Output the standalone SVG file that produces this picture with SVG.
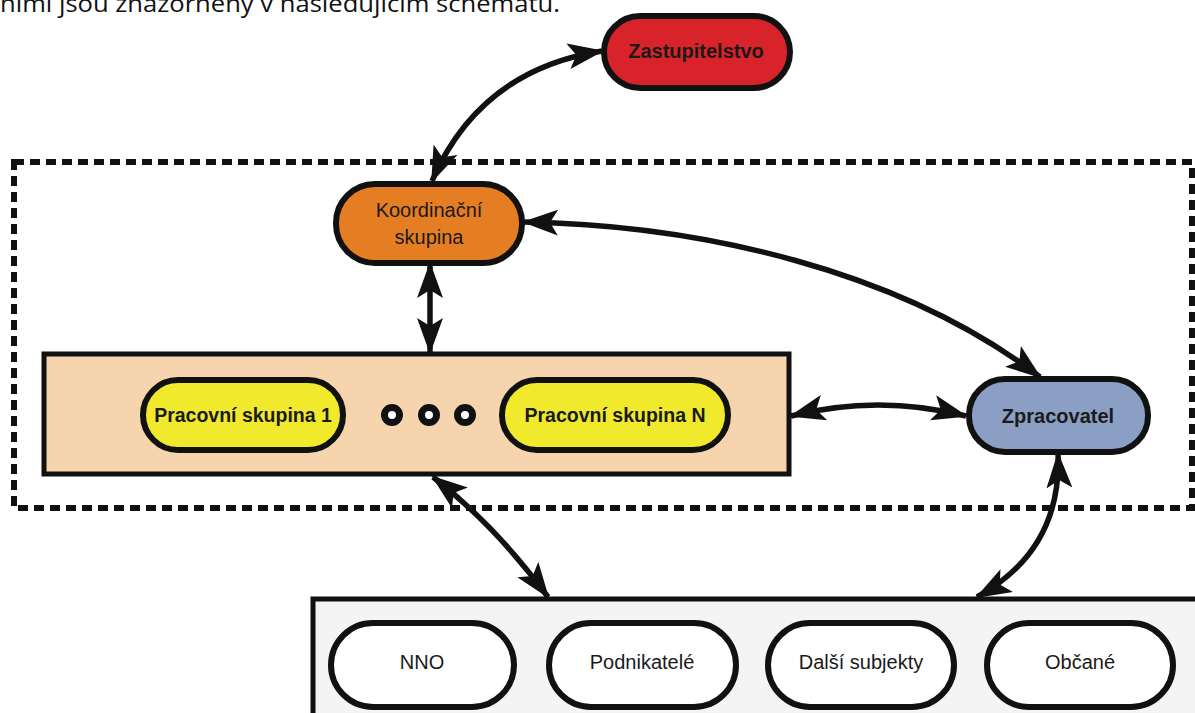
<svg xmlns="http://www.w3.org/2000/svg" width="1195" height="713" viewBox="0 0 1195 713">
<defs>
<marker id="ah" viewBox="0 0 36 26" refX="34" refY="13" markerWidth="36" markerHeight="26" markerUnits="userSpaceOnUse" orient="auto-start-reverse">
<path d="M0 0 L36 13 L0 26 L8 13 Z" fill="#111"/>
</marker>
<style>
.node{stroke:#111;stroke-width:6}
.lbl{font-family:"Liberation Sans",Arial,sans-serif;text-anchor:middle;fill:#1a1a1a}
.conn{fill:none;stroke:#111;stroke-width:5.5;marker-start:url(#ah);marker-end:url(#ah)}
.dot{fill:#fff;stroke:#111;stroke-width:7}
</style>
</defs>
<rect width="1195" height="713" fill="#fff"/>
<text x="0" y="12" font-family="'Open Sans','Liberation Sans',sans-serif" font-size="23" fill="#111" textLength="560" lengthAdjust="spacingAndGlyphs">nimi jsou znázorněny v následujícím schématu.</text>
<rect id="scope" x="14" y="162" width="1178" height="346" fill="none" stroke="#111" stroke-width="6" stroke-dasharray="10 6"/>
<g id="zastupitelstvo">
<rect class="node" x="604" y="16" width="186" height="72" rx="36" fill="#d8232a"/>
<text class="lbl" x="696" y="58" font-size="20" font-weight="bold" fill="#2a0808">Zastupitelstvo</text>
</g>
<g id="koordinacni">
<rect class="node" x="336" y="184" width="186" height="79" rx="39" fill="#e57e22"/>
<text class="lbl" x="429" y="217" font-size="20">Koordinační</text>
<text class="lbl" x="429" y="244" font-size="20">skupina</text>
</g>
<g id="pracovni-skupiny">
<rect x="44" y="354" width="745" height="120" fill="#f6d4ae" stroke="#111" stroke-width="5"/>
</g>
<g id="ps1">
<rect class="node" x="143" y="380" width="200" height="70" rx="35" fill="#f1e92b"/>
<text class="lbl" x="243" y="422" font-size="19.5" font-weight="bold">Pracovní skupina 1</text>
</g>
<g id="dots">
<circle class="dot" cx="392" cy="415" r="7.5"/>
<circle class="dot" cx="429" cy="415" r="7.5"/>
<circle class="dot" cx="465" cy="415" r="7.5"/>
</g>
<g id="psN">
<rect class="node" x="502" y="380" width="226" height="70" rx="35" fill="#f1e92b"/>
<text class="lbl" x="615" y="422" font-size="19.5" font-weight="bold">Pracovní skupina N</text>
</g>
<g id="zpracovatel">
<rect class="node" x="969" y="379" width="179" height="73" rx="36" fill="#8b9fc4"/>
<text class="lbl" x="1058" y="423" font-size="20" font-weight="bold" fill="#1b2030">Zpracovatel</text>
</g>
<g id="verejnost">
<rect x="313" y="599" width="890" height="130" fill="#f4f4f4" stroke="#111" stroke-width="5"/>
</g>
<g id="nno">
<rect class="node" x="331" y="623" width="183" height="84" rx="42" fill="#fff"/>
<text class="lbl" x="422" y="669" font-size="20">NNO</text>
</g>
<g id="podnikatele">
<rect class="node" x="549" y="623" width="187" height="84" rx="42" fill="#fff"/>
<text class="lbl" x="642" y="669" font-size="20">Podnikatelé</text>
</g>
<g id="dalsi">
<rect class="node" x="768" y="623" width="186" height="84" rx="42" fill="#fff"/>
<text class="lbl" x="861" y="669" font-size="20">Další subjekty</text>
</g>
<g id="obcane">
<rect class="node" x="987" y="623" width="186" height="84" rx="42" fill="#fff"/>
<text class="lbl" x="1080" y="669" font-size="20">Občané</text>
</g>
<g id="connectors">
<path class="conn" d="M432 181 Q480 70 602 51"/>
<path class="conn" d="M524 222 C700 225 900 270 1040 377"/>
<path class="conn" d="M430 264 L430 352"/>
<path class="conn" d="M791 416 Q878 394 966 416"/>
<path class="conn" d="M433 477 Q495 525 548 597"/>
<path class="conn" d="M1058 454 Q1062 550 977 597"/>
</g>
</svg>
